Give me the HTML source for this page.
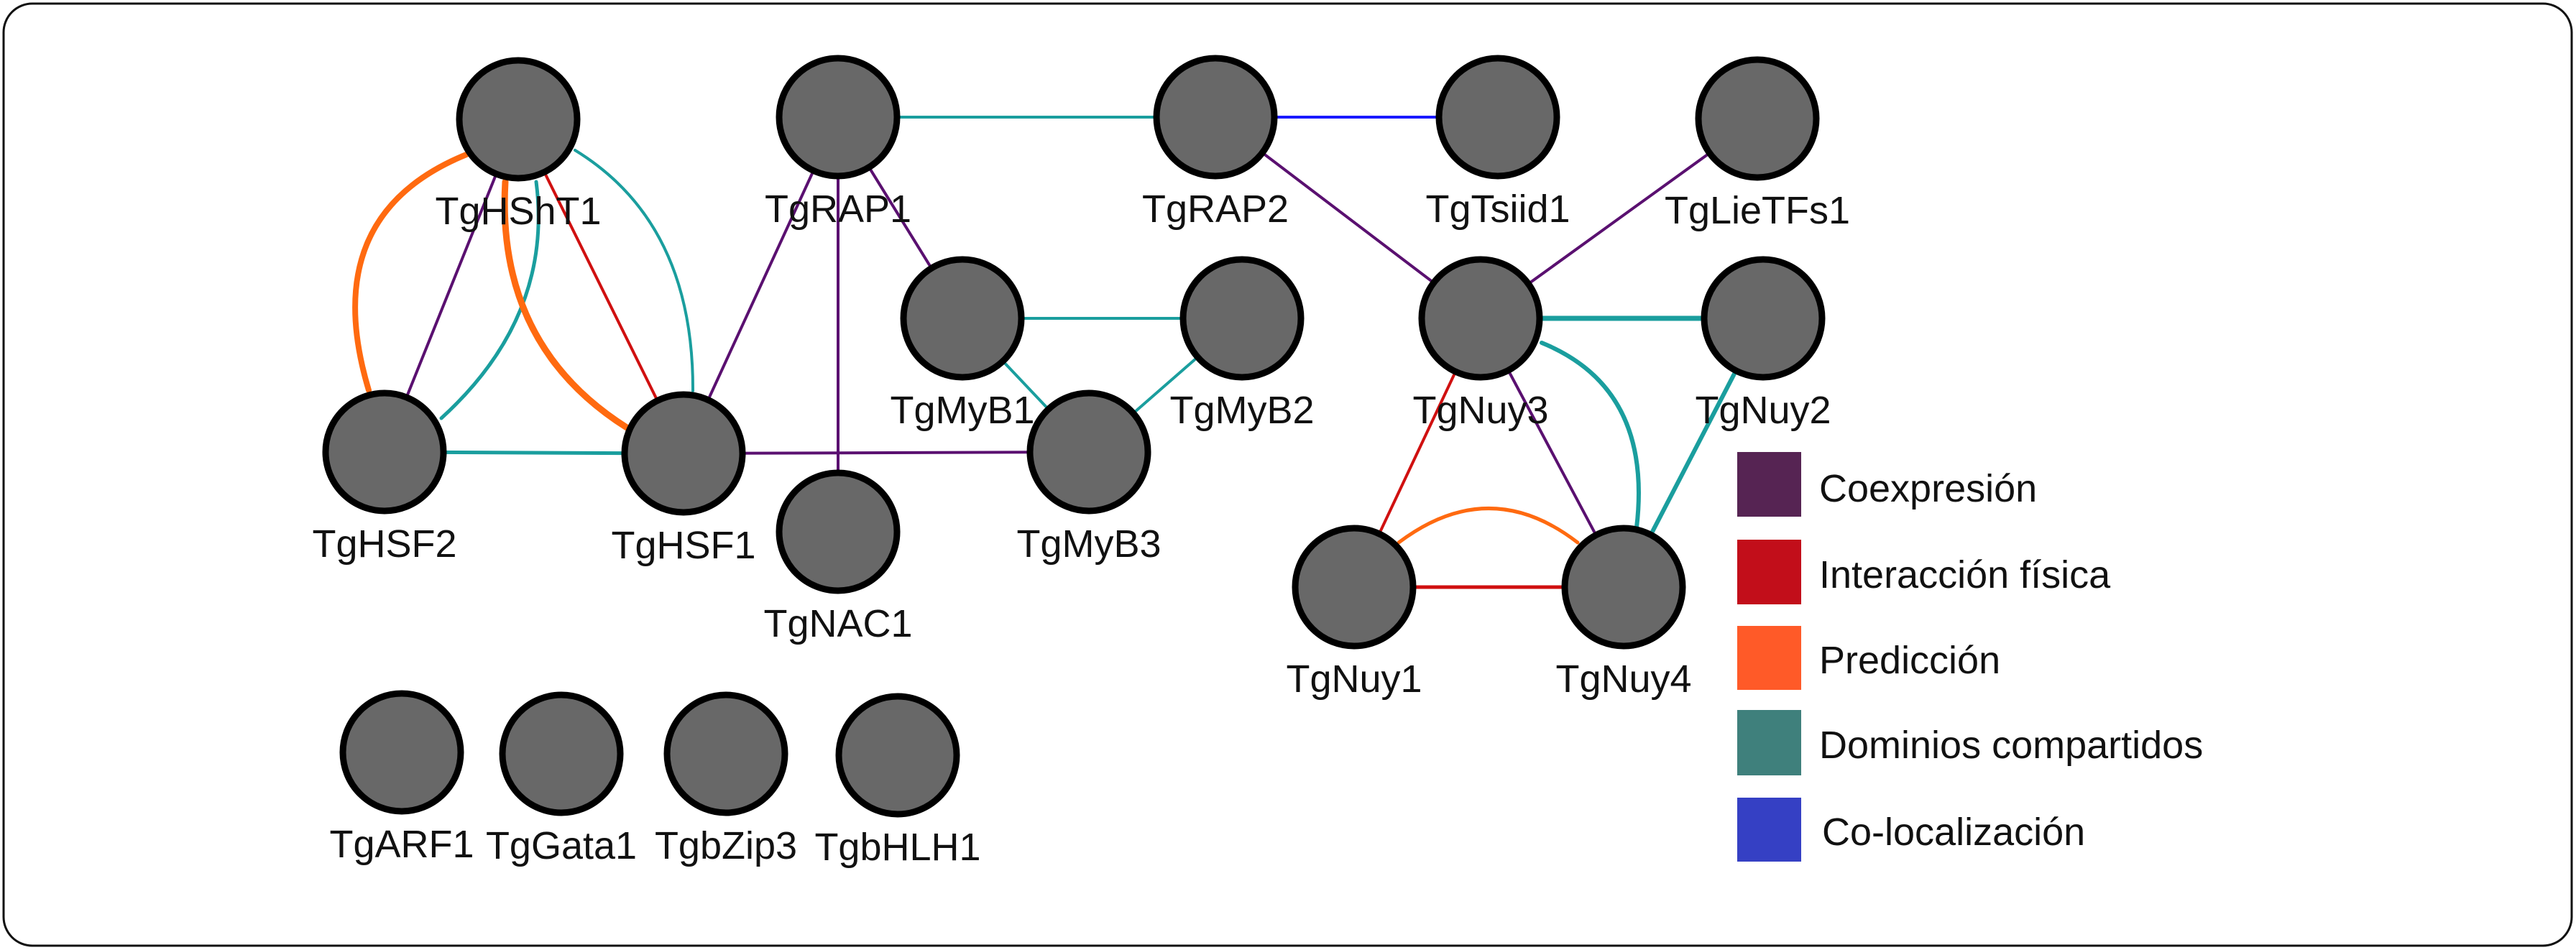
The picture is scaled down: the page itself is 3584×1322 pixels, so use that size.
<!DOCTYPE html>
<html><head><meta charset="utf-8"><style>
html,body{margin:0;padding:0;background:#fff;}
svg{display:block;}
text{font-family:"Liberation Sans",Arial,sans-serif;font-size:54px;fill:#111;}
</style></head><body>
<svg width="3584" height="1322" viewBox="0 0 3584 1322" xmlns="http://www.w3.org/2000/svg">
<rect x="5" y="5" width="3573" height="1311" rx="40" ry="40" fill="#fff" stroke="#111" stroke-width="3"/>
<g fill="none" stroke-linecap="round">
<!-- HShT1-HSF2 -->
<path d="M649,215 Q440,300 513,543" stroke="#ff6a10" stroke-width="8"/>
<line x1="721" y1="166" x2="535" y2="629" stroke="#5a1070" stroke-width="4"/>
<path d="M746,253 Q770,440 614,582" stroke="#1a9e9e" stroke-width="5"/>
<!-- HShT1-HSF1 -->
<path d="M703,253 Q690,480 872,595" stroke="#ff6a10" stroke-width="9"/>
<line x1="721" y1="166" x2="951" y2="631" stroke="#d01010" stroke-width="4"/>
<path d="M800,209 Q965,310 964,544" stroke="#1a9e9e" stroke-width="4"/>
<line x1="535" y1="629" x2="951" y2="631" stroke="#1a9e9e" stroke-width="5"/>
<line x1="951" y1="631" x2="1166" y2="163" stroke="#5a1070" stroke-width="4"/>
<line x1="951" y1="631" x2="1515" y2="629" stroke="#5a1070" stroke-width="4"/>
<line x1="1166" y1="163" x2="1166" y2="740" stroke="#5a1070" stroke-width="4"/>
<line x1="1166" y1="163" x2="1339" y2="443" stroke="#5a1070" stroke-width="4"/>
<line x1="1166" y1="163" x2="1691" y2="163" stroke="#1a9e9e" stroke-width="4"/>
<line x1="1691" y1="163" x2="2084" y2="163" stroke="#1a1aff" stroke-width="4"/>
<line x1="1691" y1="163" x2="2060" y2="443" stroke="#5a1070" stroke-width="4"/>
<line x1="1339" y1="443" x2="1728" y2="443" stroke="#1a9e9e" stroke-width="4"/>
<line x1="1339" y1="443" x2="1515" y2="629" stroke="#1a9e9e" stroke-width="4"/>
<line x1="1728" y1="443" x2="1515" y2="629" stroke="#1a9e9e" stroke-width="4"/>
<line x1="2445" y1="165" x2="2060" y2="443" stroke="#5a1070" stroke-width="4"/>
<line x1="2060" y1="443" x2="2453" y2="443" stroke="#1a9e9e" stroke-width="7"/>
<path d="M2145,477 Q2300,540 2277,734" stroke="#1a9e9e" stroke-width="6"/>
<line x1="2060" y1="443" x2="2259" y2="817" stroke="#5a1070" stroke-width="4"/>
<line x1="2060" y1="443" x2="1884" y2="817" stroke="#d01010" stroke-width="4"/>
<line x1="2453" y1="443" x2="2259" y2="817" stroke="#1a9e9e" stroke-width="6"/>
<path d="M1946,755 Q2072,660 2195,755" stroke="#ff6a10" stroke-width="5"/>
<line x1="1884" y1="817" x2="2259" y2="817" stroke="#d01010" stroke-width="5"/>
</g>
<g fill="#686868" stroke="#000" stroke-width="9">
<circle cx="721" cy="166" r="82"/>
<circle cx="1166" cy="163" r="82"/>
<circle cx="1691" cy="163" r="82"/>
<circle cx="2084" cy="163" r="82"/>
<circle cx="2445" cy="165" r="82"/>
<circle cx="1339" cy="443" r="82"/>
<circle cx="1728" cy="443" r="82"/>
<circle cx="2060" cy="443" r="82"/>
<circle cx="2453" cy="443" r="82"/>
<circle cx="535" cy="629" r="82"/>
<circle cx="951" cy="631" r="82"/>
<circle cx="1515" cy="629" r="82"/>
<circle cx="1166" cy="740" r="82"/>
<circle cx="1884" cy="817" r="82"/>
<circle cx="2259" cy="817" r="82"/>
<circle cx="559" cy="1047" r="82"/>
<circle cx="781" cy="1049" r="82"/>
<circle cx="1010" cy="1049" r="82"/>
<circle cx="1249" cy="1051" r="82"/>
</g>
<g text-anchor="middle">
<text x="721" y="312">TgHShT1</text>
<text x="1166" y="309">TgRAP1</text>
<text x="1691" y="309">TgRAP2</text>
<text x="2084" y="309">TgTsiid1</text>
<text x="2445" y="311">TgLieTFs1</text>
<text x="1339" y="589">TgMyB1</text>
<text x="1728" y="589">TgMyB2</text>
<text x="2060" y="589">TgNuy3</text>
<text x="2453" y="589">TgNuy2</text>
<text x="535" y="775">TgHSF2</text>
<text x="951" y="777">TgHSF1</text>
<text x="1515" y="775">TgMyB3</text>
<text x="1166" y="886">TgNAC1</text>
<text x="1884" y="963">TgNuy1</text>
<text x="2259" y="963">TgNuy4</text>
<text x="559" y="1193">TgARF1</text>
<text x="781" y="1195">TgGata1</text>
<text x="1010" y="1195">TgbZip3</text>
<text x="1249" y="1197">TgbHLH1</text>
</g>
<rect x="2417" y="629" width="89" height="90" fill="#562453"/>
<rect x="2417" y="751" width="89" height="90" fill="#c20e1a"/>
<rect x="2417" y="871" width="89" height="89" fill="#ff5a28"/>
<rect x="2417" y="988" width="89" height="91" fill="#3f807c"/>
<rect x="2417" y="1110" width="89" height="89" fill="#3540c4"/>
<text x="2531" y="698">Coexpresión</text>
<text x="2531" y="818">Interacción física</text>
<text x="2531" y="937">Predicción</text>
<text x="2531" y="1055">Dominios compartidos</text>
<text x="2535" y="1176">Co-localización</text>
</svg>
</body></html>
